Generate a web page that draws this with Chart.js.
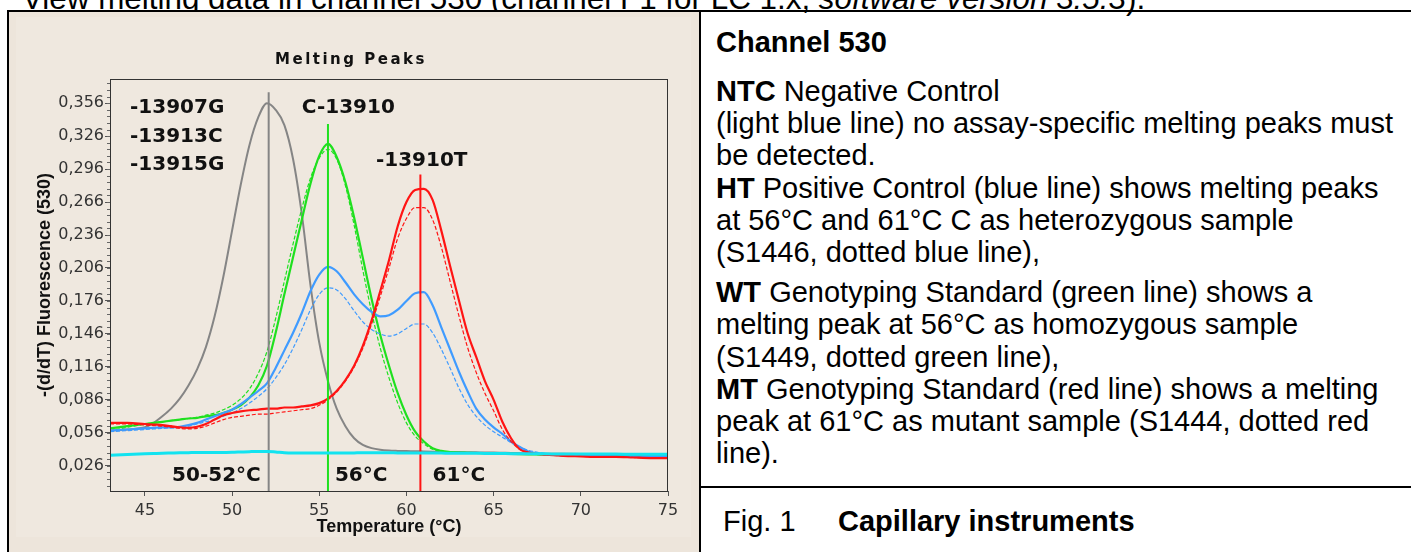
<!DOCTYPE html>
<html><head><meta charset="utf-8">
<script src="https://cdn.jsdelivr.net/npm/chart.js@4.4.0/dist/chart.umd.min.js"></script>
<style>
html,body{margin:0;padding:0;width:1411px;height:552px;overflow:hidden;background:#fff;font-family:"Liberation Sans",Arial,sans-serif;color:#000;}
.abs{position:absolute;white-space:nowrap;}
#header{left:22px;top:-17px;font-size:31.4px;line-height:1;}
#cell{left:9px;top:12px;width:690px;height:540px;background:#ede5db;}
#inner{left:16px;top:17px;width:675px;height:520px;background:#efe8df;}
#chartWrap{left:9px;top:12px;width:690px;height:540px;}
.bl{background:#000;position:absolute;}
#chan{left:716px;top:26px;font-size:29px;line-height:1.117;font-weight:bold;}
#body{left:716px;top:75px;font-size:29px;line-height:32.2px;}
#body .gap{display:block;height:8px;}
#fig1{left:723px;top:505px;font-size:29px;line-height:1.117;}
#fig2{left:838px;top:505px;font-size:29px;line-height:1.117;font-weight:bold;}
</style></head>
<body>
<div class="abs" id="header">View melting data in channel 530 (channel F1 for LC 1.x, <i>software version 3.5.3</i>).</div>
<div class="abs" id="cell"></div>
<div class="abs" id="inner"></div>
<div class="abs" id="chartWrap"><canvas id="c" width="690" height="540"></canvas></div>
<div class="bl" style="left:7px;top:10px;width:1404px;height:2px;"></div>
<div class="bl" style="left:7px;top:10px;width:2px;height:542px;"></div>
<div class="bl" style="left:699px;top:10px;width:2px;height:542px;"></div>
<div class="bl" style="left:699px;top:486px;width:712px;height:2px;"></div>
<div class="abs" id="chan">Channel 530</div>
<div class="abs" id="body"><b>NTC</b> Negative Control<br>(light blue line) no assay-specific melting peaks must<br>be detected.<br><b>HT</b> Positive Control (blue line) shows melting peaks<br>at 56°C and 61°C C as heterozygous sample<br>(S1446, dotted blue line),<span class="gap"></span><b>WT</b> Genotyping Standard (green line) shows a<br>melting peak at 56°C as homozygous sample<br>(S1449, dotted green line),<br><b>MT</b> Genotyping Standard (red line) shows a melting<br>peak at 61°C as mutant sample (S1444, dotted red<br>line).</div>
<div class="abs" id="fig1">Fig. 1</div>
<div class="abs" id="fig2">Capillary instruments</div>
<script>
// ---- data ----
const temps = [43,44,45,45.5,46,46.5,47,47.5,48,48.5,49,49.5,50,50.5,51,51.5,52,52.5,53,53.5,54,54.5,55,55.5,56,56.5,57,57.5,58,58.5,59,59.5,60,60.5,61,61.5,62,62.5,63,63.5,64,64.5,65,65.5,66,66.5,67,68,69,70,71,72,73,74,75];
const ntc = [0.0355,0.0362,0.0368,0.0371,0.0374,0.0376,0.0378,0.0379,0.038,0.038,0.038,0.0381,0.0382,0.0385,0.0388,0.039,0.039,0.0385,0.0378,0.0376,0.0376,0.0376,0.0375,0.0375,0.0375,0.0376,0.0377,0.0378,0.0378,0.0378,0.0378,0.0377,0.0377,0.0376,0.0376,0.0375,0.0375,0.0374,0.0374,0.0373,0.0373,0.0372,0.0372,0.0371,0.037,0.037,0.0369,0.0368,0.0367,0.0367,0.0366,0.0366,0.0365,0.0365,0.0365];
const refGray = [0.058,0.059,0.061,0.065,0.071,0.078,0.087,0.099,0.114,0.134,0.162,0.198,0.24,0.282,0.318,0.343,0.356,0.35,0.336,0.305,0.255,0.19,0.138,0.103,0.078,0.062,0.051,0.045,0.042,0.0405,0.0398,0.0395,0.0393,0.0392,0.039,0.0388,0.0386,0.0385,0.0384,0.0383,0.0382,0.038,0.038,0.0378,0.0376,0.0375,0.0374,0.037,0.0368,0.0366,0.0364,0.0362,0.036,0.0358,0.0356];
const wtStd = [0.06,0.062,0.064,0.065,0.066,0.067,0.068,0.069,0.0695,0.071,0.072,0.074,0.077,0.081,0.088,0.099,0.117,0.147,0.182,0.216,0.25,0.283,0.308,0.319,0.307,0.284,0.252,0.215,0.178,0.145,0.117,0.092,0.072,0.057,0.048,0.042,0.0395,0.0385,0.038,0.0378,0.0376,0.0375,0.0373,0.037,0.0368,0.0366,0.0364,0.036,0.0358,0.0356,0.0354,0.0352,0.035,0.035,0.035];
const wtS1449 = [0.058,0.061,0.064,0.065,0.066,0.067,0.068,0.069,0.07,0.072,0.074,0.077,0.081,0.087,0.096,0.11,0.13,0.16,0.194,0.228,0.26,0.288,0.306,0.314,0.305,0.281,0.245,0.204,0.166,0.133,0.106,0.083,0.065,0.053,0.046,0.041,0.039,0.038,0.0378,0.0376,0.0375,0.0374,0.0372,0.037,0.0368,0.0366,0.0364,0.036,0.0358,0.0356,0.0354,0.0352,0.035,0.035,0.035];
const htPos = [0.058,0.059,0.06,0.0605,0.061,0.061,0.0615,0.063,0.065,0.068,0.071,0.074,0.077,0.082,0.088,0.094,0.101,0.115,0.131,0.147,0.165,0.185,0.2,0.207,0.203,0.193,0.182,0.173,0.166,0.162,0.163,0.168,0.176,0.183,0.184,0.172,0.152,0.132,0.112,0.094,0.078,0.068,0.061,0.055,0.048,0.043,0.039,0.0365,0.0355,0.035,0.0348,0.0346,0.0345,0.0345,0.0345];
const htS1446 = [0.057,0.058,0.059,0.0595,0.06,0.0605,0.061,0.062,0.064,0.066,0.068,0.071,0.074,0.078,0.083,0.089,0.096,0.106,0.118,0.133,0.15,0.168,0.182,0.188,0.186,0.178,0.167,0.157,0.15,0.146,0.144,0.146,0.151,0.155,0.155,0.147,0.132,0.115,0.097,0.082,0.071,0.063,0.057,0.052,0.047,0.043,0.04,0.037,0.0355,0.035,0.0348,0.0346,0.0345,0.0345,0.0345];
const mtStd = [0.065,0.065,0.064,0.0635,0.063,0.062,0.061,0.0605,0.0615,0.064,0.068,0.072,0.074,0.0755,0.0765,0.077,0.078,0.078,0.079,0.079,0.08,0.081,0.083,0.087,0.094,0.104,0.117,0.135,0.158,0.185,0.213,0.244,0.266,0.277,0.278,0.268,0.24,0.208,0.177,0.147,0.125,0.103,0.086,0.066,0.051,0.041,0.038,0.036,0.035,0.0345,0.034,0.034,0.0335,0.033,0.033];
const mtS1444 = [0.064,0.064,0.063,0.0625,0.062,0.061,0.06,0.0595,0.06,0.062,0.065,0.068,0.07,0.071,0.072,0.073,0.073,0.074,0.075,0.076,0.077,0.078,0.081,0.086,0.093,0.103,0.116,0.133,0.155,0.18,0.206,0.233,0.251,0.261,0.261,0.25,0.225,0.194,0.163,0.134,0.111,0.092,0.076,0.059,0.048,0.041,0.038,0.036,0.035,0.0345,0.034,0.034,0.0335,0.033,0.033];
const markerTemps = [52.1, 55.5, 60.8];
const markerTops = [0.366, 0.337, 0.291];
const yTickValues = [0.026,0.056,0.086,0.116,0.146,0.176,0.206,0.236,0.266,0.296,0.326,0.356];
const xTickValues = [45,50,55,60,65,70,75];
const peakLabels = ['-13907G','-13913C','-13915G','C-13910','-13910T','50-52°C','56°C','61°C'];
const peakLabelX = [44.15,44.15,44.15,54.0,58.25,46.56,55.9,61.5];
const peakLabelY = [0.347,0.321,0.295,0.347,0.2987,0.0117,0.0117,0.0117];

const Y_MIN = 0.003, Y_MAX = 0.378;
const pts = arr => temps.map((t,i)=>({x:t,y:arr[i]}));
function curve(label, arr, color, width, dash){
  return {label, data: pts(arr), borderColor: color, borderWidth: width, borderDash: dash||[], pointRadius: 0, fill:false, cubicInterpolationMode:'monotone'};
}
function marker(i, color){
  return {label:'m'+i, data:[{x:markerTemps[i],y:Y_MIN},{x:markerTemps[i],y:markerTops[i]}], borderColor:color, borderWidth:2, pointRadius:0, fill:false};
}
const GREEN='#1fe01f', BLUE='#3f9bff', RED='#ff1414', GRAY='#858585', CYAN='#12e3f0';
const datasets = [
  curve('NTC', ntc, CYAN, 3),
  marker(0, GRAY), marker(1, GREEN), marker(2, RED),
  curve('MT', mtStd, RED, 2.2),
  curve('S1444', mtS1444, RED, 1.2, [4,2]),
  curve('HT', htPos, BLUE, 2.2),
  curve('S1446', htS1446, BLUE, 1.2, [4,2]),
  curve('WT', wtStd, GREEN, 2.2),
  curve('S1449', wtS1449, GREEN, 1.2, [4,2]),
  curve('ref', refGray, GRAY, 2)
];

const extras = {
  id:'extras',
  afterDraw(chart){
    const ctx = chart.ctx, a = chart.chartArea, xs = chart.scales.x, ys = chart.scales.y;
    ctx.save();
    ctx.strokeStyle = '#666'; ctx.lineWidth = 1;
    for (let v = 0.026 - 0.03; v <= Y_MAX; v += 0.006) {
      if (v < Y_MIN) continue;
      const y = Math.round(ys.getPixelForValue(v)) + 0.5;
      ctx.beginPath(); ctx.moveTo(a.left - 3, y); ctx.lineTo(a.left, y); ctx.stroke();
    }
    ctx.strokeStyle = '#333';
    ctx.strokeRect(a.left + 0.5, a.top + 0.5, a.right - a.left - 1, a.bottom - a.top);
    ctx.fillStyle = '#111';
    ctx.font = 'bold 20px "DejaVu Sans"';
    ctx.textAlign = 'left'; ctx.textBaseline = 'alphabetic';
    peakLabels.forEach((t,i)=>{
      ctx.fillText(t, xs.getPixelForValue(peakLabelX[i]), ys.getPixelForValue(peakLabelY[i]));
    });
    ctx.font = 'bold 15px "DejaVu Sans"';
    ctx.textAlign = 'center';
    try { ctx.letterSpacing = '2.5px'; } catch(e) {}
    ctx.fillText('Melting Peaks', 342, 52);
    ctx.restore();
  }
};

new Chart(document.getElementById('c'), {
  type:'line',
  data:{datasets},
  plugins:[extras],
  options:{
    responsive:false, animation:false, events:[],
    layout:{padding:{left:0,right:31,top:67,bottom:0}},
    plugins:{legend:{display:false}, tooltip:{enabled:false}, title:{display:false}},
    scales:{
      x:{type:'linear', min:43, max:75,
        afterBuildTicks(s){ s.ticks = xTickValues.map(v=>({value:v})); },
        afterFit(s){ s.height = 61; },
        grid:{display:true, drawOnChartArea:false, drawTicks:true, tickLength:5, color:'#555'},
        border:{display:true, color:'#555'},
        ticks:{color:'#333', font:{family:'DejaVu Sans', size:16}, padding:5, maxRotation:0, callback:v=>String(v)},
        title:{display:true, text:'Temperature (°C)', color:'#111', font:{family:'Liberation Sans', size:18, weight:'bold'}, padding:{top:0,bottom:14}}
      },
      y:{type:'linear', min:Y_MIN, max:Y_MAX,
        afterBuildTicks(s){ s.ticks = yTickValues.map(v=>({value:v})); },
        afterFit(s){ s.width = 101; },
        grid:{display:true, drawOnChartArea:false, drawTicks:true, tickLength:5, color:'#555'},
        border:{display:true, color:'#555'},
        ticks:{color:'#333', font:{family:'DejaVu Sans', size:16}, padding:1, callback:v=>v.toFixed(3).replace('.',',')},
        title:{display:true, text:'-(d/dT) Fluorescence (530)', color:'#111', font:{family:'Liberation Sans', size:18, weight:'bold'}, padding:{top:25,bottom:0}}
      }
    }
  }
});
</script>
</body></html>
